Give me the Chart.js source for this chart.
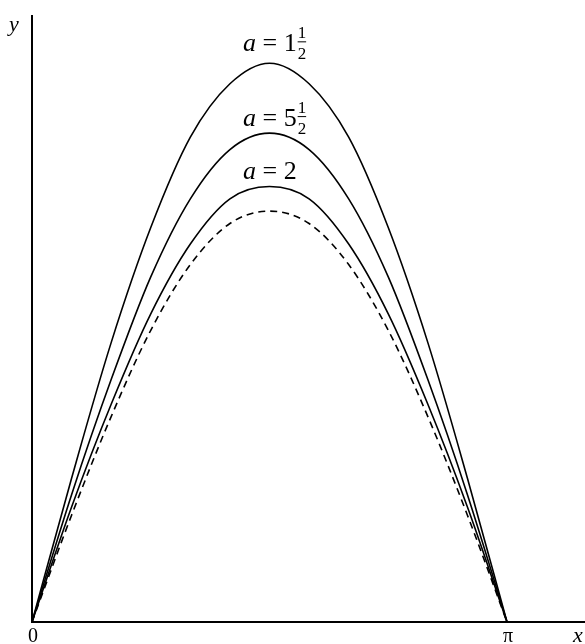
<!DOCTYPE html>
<html>
<head>
<meta charset="utf-8">
<script src="https://cdn.jsdelivr.net/npm/chart.js@4"></script>
<style>
  html, body { margin: 0; padding: 0; background: #fff; }
  #wrap { width: 585px; height: 644px; }
</style>
</head>
<body>
<div id="wrap"><canvas id="chart"></canvas></div>
<script>
// x in steps of pi/12
let xs = [0, 1, 2, 3, 4, 5, 6, 7, 8, 9, 10, 11, 12]
let curveOneHalf = [0, 0.35, 0.68, 0.96, 1.18, 1.31, 1.36, 1.31, 1.18, 0.96, 0.68, 0.35, 0]
let curveFiveHalf = [0, 0.31, 0.59, 0.84, 1.03, 1.15, 1.19, 1.15, 1.03, 0.84, 0.59, 0.31, 0]
let curveTwo = [0, 0.28, 0.53, 0.75, 0.92, 1.03, 1.06, 1.03, 0.92, 0.75, 0.53, 0.28, 0]
let curveBase = [0, 0.26, 0.50, 0.71, 0.87, 0.97, 1.00, 0.97, 0.87, 0.71, 0.50, 0.26, 0]

let tickValues = [0, 12]
let tickLabels = ['0', 'π']

// curve labels: whole part, whether a half follows, baseline y
let curveLabels = [
    {whole: '1', half: true, y: 1.389},
    {whole: '5', half: true, y: 1.207},
    {whole: '2', half: false, y: 1.078},
]
let labelX = 5.33

const serif = '"Liberation Serif", "Times New Roman", serif'

function pts(ys) {
    return xs.map((x, i) => ({x, y: ys[i]}))
}

function line(ys, dashed) {
    return {
        data: pts(ys),
        borderColor: '#000',
        borderWidth: 1.6,
        borderDash: dashed ? [7, 5] : [],
        pointRadius: 0,
        tension: 0.4,
        cubicInterpolationMode: 'monotone',
        fill: false,
    }
}

const textPlugin = {
    id: 'texts',
    afterDraw(chart) {
        let ctx = chart.ctx
        let sx = chart.scales.x
        let sy = chart.scales.y
        let bottom = chart.chartArea.bottom
        ctx.save()
        ctx.fillStyle = '#000'
        ctx.strokeStyle = '#000'

        // tick labels
        ctx.font = '20px ' + serif
        ctx.textAlign = 'center'
        ctx.textBaseline = 'alphabetic'
        tickValues.forEach((v, i) => {
            ctx.fillText(tickLabels[i], sx.getPixelForValue(v) + 1, bottom + 20)
        })

        // axis names
        ctx.textAlign = 'left'
        ctx.font = 'italic 22px ' + serif
        ctx.fillText('y', 9, 31)
        ctx.fillText('x', 573, 642)

        curveLabels.forEach((lab) => {
            let x = sx.getPixelForValue(labelX)
            let y = sy.getPixelForValue(lab.y)
            ctx.font = 'italic 26px ' + serif
            ctx.fillText('a', x, y)
            x += ctx.measureText('a ').width
            ctx.font = '26px ' + serif
            let rest = '= ' + lab.whole
            ctx.fillText(rest, x, y)
            x += ctx.measureText(rest).width + 1
            if (lab.half) {
                ctx.font = '17px ' + serif
                let w = ctx.measureText('2').width
                ctx.fillText('1', x, y - 13)
                ctx.fillText('2', x, y + 8)
                ctx.lineWidth = 1
                ctx.beginPath()
                ctx.moveTo(x, y - 9.5)
                ctx.lineTo(x + w, y - 9.5)
                ctx.stroke()
            }
        })
        ctx.restore()
    },
}

new Chart(document.getElementById('chart'), {
    type: 'line',
    data: {
        datasets: [
            line(curveOneHalf, false),
            line(curveFiveHalf, false),
            line(curveTwo, false),
            line(curveBase, true),
        ],
    },
    options: {
        responsive: true,
        maintainAspectRatio: false,
        animation: false,
        layout: {padding: {left: 32, top: 16, right: 0, bottom: 22}},
        plugins: {legend: {display: false}, tooltip: {enabled: false}},
        scales: {
            x: {
                type: 'linear',
                min: 0,
                max: 13.97,
                grid: {display: false, drawTicks: false},
                border: {display: true, color: '#000', width: 2},
                ticks: {display: false},
            },
            y: {
                min: 0,
                max: 1.475,
                grid: {display: false, drawTicks: false},
                border: {display: true, color: '#000', width: 2},
                ticks: {display: false},
            },
        },
    },
    plugins: [textPlugin],
})
</script>
</body>
</html>
